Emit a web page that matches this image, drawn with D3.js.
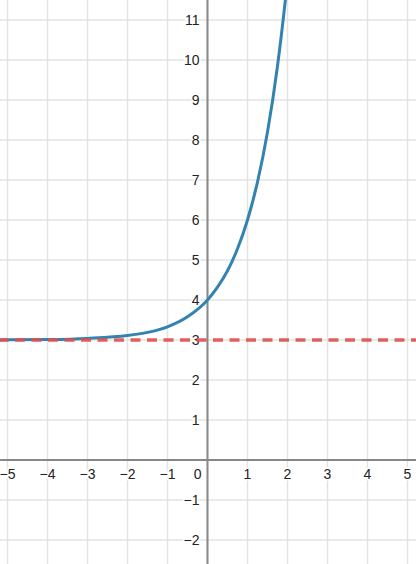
<!DOCTYPE html>
<html><head><meta charset="utf-8">
<script src="https://cdn.jsdelivr.net/npm/d3@7"></script>
<style>html,body{margin:0;padding:0;background:#fff;overflow:hidden}</style>
</head><body>
<svg id="c" width="416" height="564"></svg>
<script>
// Data
const curveX = [-5.2, -5, -4, -3, -2, -1.5, -1, -0.5, 0, 0.25, 0.5, 0.75, 1, 1.25, 1.5, 1.75, 2, 2.1];
const curveY = [3.003, 3.004, 3.012, 3.04, 3.11, 3.19, 3.33, 3.58, 4, 4.32, 4.73, 5.28, 6, 6.95, 8.2, 9.85, 12, 13];
const asymptoteY = 3;
const xTicks = [-5, -4, -3, -2, -1, 0, 1, 2, 3, 4, 5];
const yTicks = [-2, -1, 1, 2, 3, 4, 5, 6, 7, 8, 9, 10, 11];

const W = 416, H = 564;
const x = d3.scaleLinear().domain([-207.5/40, (W-207.5)/40]).range([0, W]);
const y = d3.scaleLinear().domain([-(H-460)/40, 460/40]).range([H, 0]);
const svg = d3.select('#c');

const gridX = d3.range(-5, 6), gridY = d3.range(-2, 12);
svg.append('g').selectAll('line').data(gridX).join('line')
  .attr('x1', d => x(d)).attr('x2', d => x(d)).attr('y1', 0).attr('y2', H)
  .attr('stroke', '#e3e3e3').attr('stroke-width', 1.5);
svg.append('g').selectAll('line').data(gridY).join('line')
  .attr('y1', d => y(d)).attr('y2', d => y(d)).attr('x1', 0).attr('x2', W)
  .attr('stroke', '#e3e3e3').attr('stroke-width', 1.5);

// axes
svg.append('line').attr('x1', 0).attr('x2', W).attr('y1', y(0)).attr('y2', y(0))
  .attr('stroke', '#666').attr('stroke-width', 1.5);
svg.append('line').attr('x1', x(0)).attr('x2', x(0)).attr('y1', 0).attr('y2', H)
  .attr('stroke', '#888').attr('stroke-width', 2);

const fmt = d => d < 0 ? '\u2212' + Math.abs(d) : String(d);
const lab = svg.append('g').attr('font-family', 'Liberation Sans, Arial, sans-serif')
  .attr('font-size', 14).attr('fill', '#222');
lab.selectAll('text.xt').data(xTicks).join('text').attr('class', 'xt')
  .attr('x', d => d === 0 ? x(0) - 6 : x(d)).attr('y', y(0) + 19)
  .attr('text-anchor', d => d === 0 ? 'end' : 'middle')
  .attr('stroke', '#fff').attr('stroke-width', 3).attr('paint-order', 'stroke')
  .text(fmt);

// curve
const pts = curveX.map((d, i) => [d, curveY[i]]);
svg.append('defs').append('clipPath').attr('id', 'clip').append('rect')
  .attr('width', W).attr('height', H);
svg.append('path').datum(pts).attr('clip-path', 'url(#clip)')
  .attr('d', d3.line().x(d => x(d[0])).y(d => y(d[1])).curve(d3.curveMonotoneX))
  .attr('fill', 'none').attr('stroke', '#3283b1').attr('stroke-width', 3);

lab.selectAll('text.yt').data(yTicks).join('text').attr('class', 'yt')
  .attr('x', x(0) - 8).attr('y', d => y(d) + 5)
  .attr('text-anchor', 'end')
  .attr('stroke', '#fff').attr('stroke-width', 3).attr('paint-order', 'stroke')
  .text(fmt);

// asymptote
svg.append('line').attr('x1', x.domain()[0]).attr('x2', W)
  .attr('x1', 0).attr('y1', y(asymptoteY)).attr('y2', y(asymptoteY))
  .attr('stroke', '#df4f4f').attr('stroke-opacity', 0.9).attr('stroke-width', 3.5)
  .attr('stroke-dasharray', '10,6.5').attr('stroke-dashoffset', 1.5);
</script>
</body></html>
